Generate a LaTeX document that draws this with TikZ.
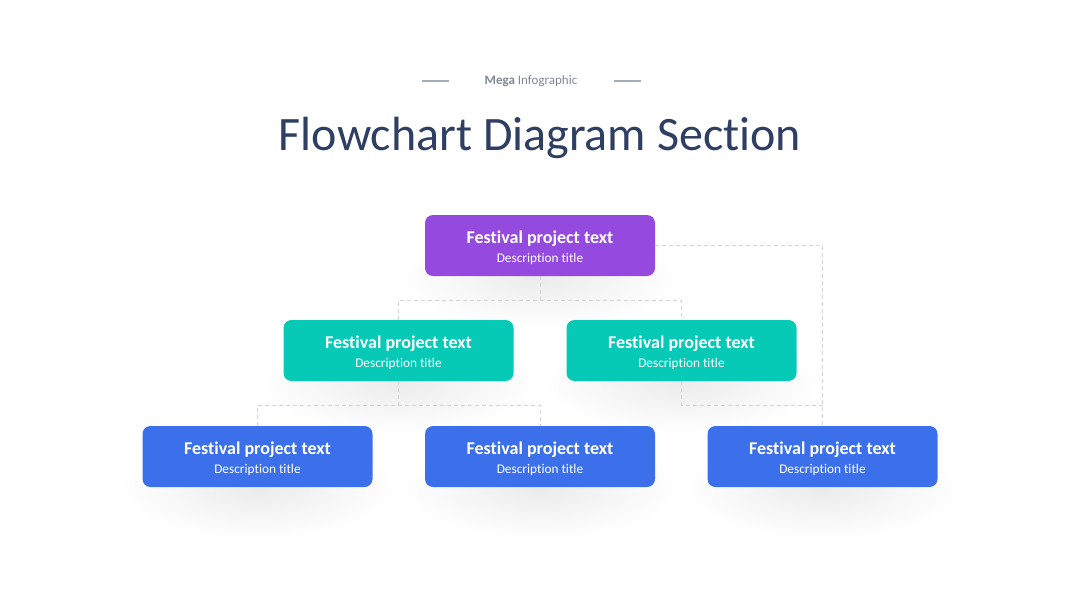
\documentclass[tikz,border=0pt]{standalone}
\usepackage{fontspec}
\setmainfont{Carlito}[Ligatures=NoCommon]
\usetikzlibrary{fadings,backgrounds}
\pgfdeclarelayer{canvas}
\pgfsetlayers{canvas,background,main}
\definecolor{titlec}{HTML}{2F3F64}
\definecolor{megac}{HTML}{7F8897}
\definecolor{rulec}{HTML}{A3ABB8}
\definecolor{purp}{HTML}{954ADF}
\definecolor{teal}{HTML}{06CAB6}
\definecolor{blueb}{HTML}{3B70EA}
\definecolor{dashc}{HTML}{D2D4D8}
\tikzfading[name=softshadow, inner color=transparent!0, outer color=transparent!100]
\tikzset{
  box/.style={rounded corners=8pt, minimum width=230pt, minimum height=61pt, inner sep=0pt, text=white, align=center, font=\fontsize{13.3}{19}\selectfont},
  conn/.style={draw=dashc, line width=0.8pt, dash pattern=on 4pt off 3pt},
  shad/.style={fill=black, opacity=0.08, path fading=softshadow},
}
\newcommand{\boxtext}{{\rule{0pt}{17.5pt}\fontsize{18}{19}\selectfont\bfseries Festival project text}\\Description title}
\begin{document}
\begin{tikzpicture}[x=1pt,y=-1pt]
\begin{pgfonlayer}{canvas}
\fill[white] (0,0) rectangle (1080,608);
\end{pgfonlayer}
\useasboundingbox (0,0) rectangle (1080,608);
% header
\node[text=megac, font=\fontsize{13}{15}\selectfont] (mega) at (531,81) {\textbf{Mega} Infographic};
\coordinate (r1a) at (422,81); \coordinate (r1b) at (449,81);
\coordinate (r2a) at (614,81); \coordinate (r2b) at (641,81);
\draw[rulec, line width=1.2pt] (r1a) -- (r1b);
\draw[rulec, line width=1.2pt] (r2a) -- (r2b);
\node[text=titlec, font=\fontsize{48}{55}\selectfont, anchor=base] (title) at (540,150) {Flowchart Diagram Section};
% boxes
\node[box, fill=purp] (top) at (540,245.5) {\boxtext};
\node[box, fill=teal] (ml) at (398.5,350.5) {\boxtext};
\node[box, fill=teal] (mr) at (681.5,350.5) {\boxtext};
\node[box, fill=blueb] (bl) at (257.5,456.5) {\boxtext};
\node[box, fill=blueb] (bm) at (540,456.5) {\boxtext};
\node[box, fill=blueb] (br) at (822.5,456.5) {\boxtext};
\begin{scope}[on background layer]
  \foreach \n in {top,ml,mr,bl,bm,br}{
    \fill[shad] ([yshift=-32pt]\n.center) ellipse (140pt and 50pt);
  }
  % connectors
  \draw[conn] (top.south) -- ++(0,24) coordinate (j1);
  \draw[conn] (ml.north) |- (j1) -| (mr.north);
  \draw[conn] (ml.south) -- ++(0,24) coordinate (j2);
  \draw[conn] (bl.north) |- (j2) -| (bm.north);
  \draw[conn] (top.east) -| (br.north);
  \draw[conn] (mr.south) |- (br.north |- j2);
\end{scope}
\end{tikzpicture}
\end{document}
